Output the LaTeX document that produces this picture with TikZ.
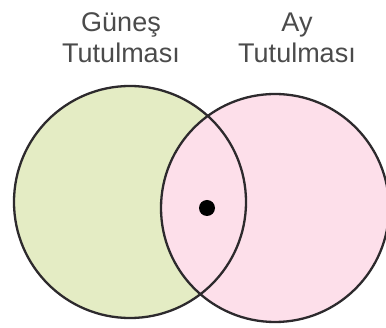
\documentclass[tikz,border=0pt]{standalone}
\usepackage{fontspec}
\setmainfont{Liberation Sans}
\definecolor{sungreen}{RGB}{228,236,196}
\definecolor{moonpink}{RGB}{253,223,234}
\definecolor{rim}{RGB}{45,42,45}
\definecolor{txt}{RGB}{75,75,75}
\begin{document}
\begin{tikzpicture}[x=1pt,y=-1pt,
  area/.style={circle, inner sep=0pt, outer sep=0pt},
  rimline/.style={circle, draw=rim, line width=2.3pt, inner sep=0pt, outer sep=0pt},
  lbl/.style={font=\fontsize{27}{31}\selectfont, text=txt, inner sep=0pt, anchor=base}]
\useasboundingbox (0,0) rectangle (386,328);
\fill[white] (0,0) rectangle (386,328);
\node[area, fill=sungreen, minimum size=232pt] (sun) at (130,202) {};
\node[area, fill=moonpink, minimum size=228pt] (moon) at (275,208) {};
\node[rimline, minimum size=232pt] (sunrim) at (sun.center) {};
\node[rimline, minimum size=228pt] (moonrim) at (moon.center) {};
\node[circle, fill=black, inner sep=0pt, minimum size=16pt] (dot) at (207,208) {};
\node[lbl] (sun1) at (121,32) {Güneş};
\node[lbl] (sun2) at (121,63) {Tutulması};
\node[lbl] (moon1) at (297,32) {Ay};
\node[lbl] (moon2) at (297,63) {Tutulması};
\end{tikzpicture}
\end{document}
